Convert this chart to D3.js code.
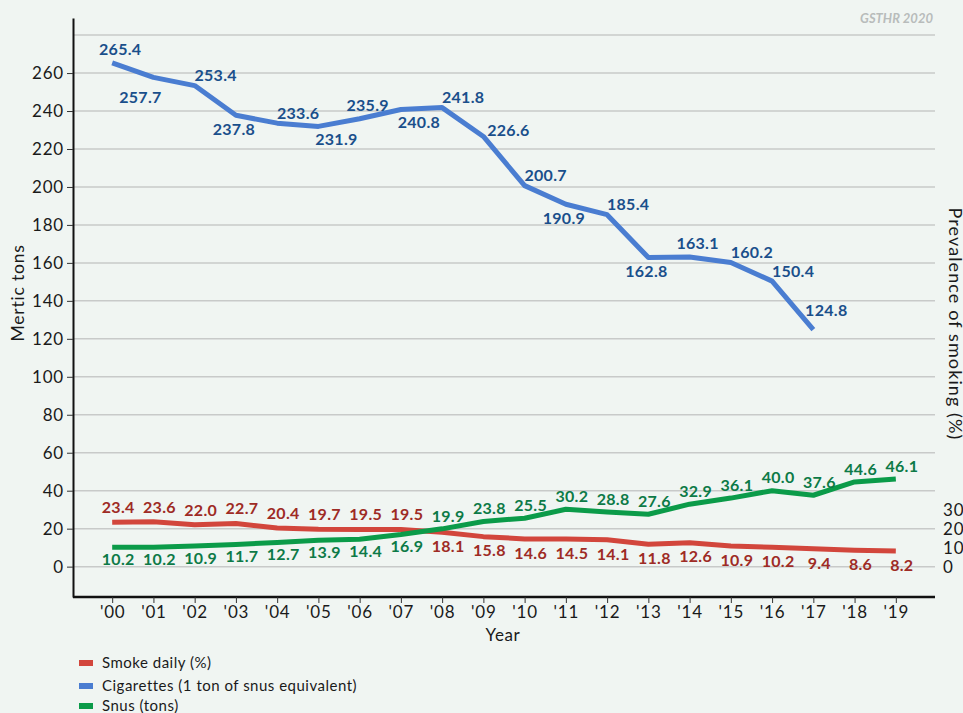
<!DOCTYPE html>
<html>
<head>
<meta charset="utf-8">
<script src="https://cdn.jsdelivr.net/npm/d3@7"></script>
<style>
  body { margin: 0; background: #f0f5f2; }
  svg { display: block; font-family: Lato, "Open Sans", sans-serif; }
</style>
</head>
<body>
<div id="chart"></div>
<script>
// years on the x axis
var years = d3.range(2000, 2020);
var year_labels = ["'00","'01","'02","'03","'04","'05","'06","'07","'08","'09",
                   "'10","'11","'12","'13","'14","'15","'16","'17","'18","'19"];

// cigarettes, 1 ton of snus equivalent (2000-2017)
var cigarettes = [265.4, 257.7, 253.4, 237.8, 233.6, 231.9, 235.9, 240.8, 241.8, 226.6,
                  200.7, 190.9, 185.4, 162.8, 163.1, 160.2, 150.4, 124.8];

// smoke daily (%)
var smoke_daily = [23.4, 23.6, 22.0, 22.7, 20.4, 19.7, 19.5, 19.5, 18.1, 15.8,
                   14.6, 14.5, 14.1, 11.8, 12.6, 10.9, 10.2, 9.4, 8.6, 8.2];

// snus (tons)
var snus = [10.2, 10.2, 10.9, 11.7, 12.7, 13.9, 14.4, 16.9, 19.9, 23.8,
            25.5, 30.2, 28.8, 27.6, 32.9, 36.1, 40.0, 37.6, 44.6, 46.1];

// where each cigarette label sits relative to its point
var cig_label_side = ["t","bl","tr","b","tr","br","t","br","tr","r",
                      "tr","b","tr","b","t","tr","tr","ut"];

var left_ticks = d3.range(0, 261, 20);
var grid_ticks = d3.range(0, 281, 20);
var right_ticks = [0, 10, 20, 30];

var legend_items = [
    {name: "Smoke daily (%)", color: "#d2463c"},
    {name: "Cigarettes (1 ton of snus equivalent)", color: "#4a7dd1"},
    {name: "Snus (tons)", color: "#0b9b49"}
];

// plot area (note: "top" is reserved on window, so use other names)
var W = 963, H = 713;
var plot_left = 73, plot_right = 935, plot_top = 18, plot_bottom = 597;

var svg = d3.select("#chart").append("svg")
    .attr("width", W)
    .attr("height", H);

svg.append("rect").attr("width", W).attr("height", H).attr("fill", "#f0f5f2");

// scales
var x = d3.scalePoint()
    .domain(years)
    .range([plot_left, plot_right])
    .padding(0.95);

var y = d3.scaleLinear()
    .domain([-16, 289])
    .range([plot_bottom, plot_top]);

// gridlines
svg.append("g")
    .selectAll("line")
    .data(grid_ticks)
    .join("line")
    .attr("x1", plot_left)
    .attr("x2", plot_right)
    .attr("y1", function(d) { return y(d); })
    .attr("y2", function(d) { return y(d); })
    .attr("stroke", "#c8cac9")
    .attr("stroke-width", 1.5);

// left axis
var yAxis = d3.axisLeft(y)
    .tickValues(left_ticks)
    .tickSize(6)
    .tickSizeOuter(0)
    .tickPadding(3);

var gy = svg.append("g")
    .attr("transform", "translate(" + plot_left + ",0)")
    .call(yAxis);
gy.select(".domain").attr("stroke", "#111").attr("stroke-width", 2);
gy.selectAll(".tick line").attr("stroke", "#333").attr("stroke-width", 1);
gy.selectAll(".tick text")
    .attr("font-family", "Lato")
    .attr("font-size", 17)
    .attr("letter-spacing", 0.8)
    .attr("fill", "#1a1a1a");

// bottom axis
var xAxis = d3.axisBottom(x)
    .tickSize(6)
    .tickSizeOuter(0)
    .tickPadding(3)
    .tickFormat(function(d, i) { return year_labels[i]; });

var gx = svg.append("g")
    .attr("transform", "translate(0," + plot_bottom + ")")
    .call(xAxis);
gx.select(".domain").attr("d", "M" + plot_left + ",0H" + plot_right).attr("stroke", "#111").attr("stroke-width", 2.5);
gx.selectAll(".tick line").attr("stroke", "#333").attr("stroke-width", 1);
gx.selectAll(".tick text")
    .attr("font-family", "Lato")
    .attr("font-size", 17)
    .attr("letter-spacing", 0.8)
    .attr("fill", "#1a1a1a");

// right axis (prevalence of smoking, same scale)
var yRight = d3.axisRight(y)
    .tickValues(right_ticks)
    .tickSize(0)
    .tickPadding(0);

var gr = svg.append("g")
    .attr("transform", "translate(943,0)")
    .call(yRight);
gr.select(".domain").remove();
gr.selectAll(".tick text")
    .attr("font-family", "Lato")
    .attr("font-size", 17)
    .attr("letter-spacing", 0.8)
    .attr("fill", "#1a1a1a");

// axis titles
svg.append("text")
    .attr("transform", "translate(24,293) rotate(-90)")
    .attr("text-anchor", "middle")
    .attr("font-size", 17.5)
    .attr("letter-spacing", 0.8)
    .attr("fill", "#1a1a1a")
    .text("Mertic tons");

svg.append("text")
    .attr("transform", "translate(949,324) rotate(90)")
    .attr("text-anchor", "middle")
    .attr("font-size", 18)
    .attr("letter-spacing", 1.1)
    .attr("fill", "#1a1a1a")
    .text("Prevalence of smoking (%)");

svg.append("text")
    .attr("x", 503)
    .attr("y", 641)
    .attr("text-anchor", "middle")
    .attr("font-size", 17)
    .attr("letter-spacing", 0.6)
    .attr("fill", "#1a1a1a")
    .text("Year");

svg.append("text")
    .attr("x", 933)
    .attr("y", 23)
    .attr("text-anchor", "end")
    .attr("font-size", 13)
    .attr("font-weight", "bold")
    .attr("font-style", "italic")
    .attr("fill", "#b8bcbb")
    .text("GSTHR 2020");

// lines
var line = d3.line()
    .x(function(d, i) { return x(years[i]); })
    .y(function(d) { return y(d); });

function draw_series(values, color) {
    svg.append("path")
        .datum(values)
        .attr("d", line)
        .attr("fill", "none")
        .attr("stroke", color)
        .attr("stroke-width", 5)
        .attr("stroke-linejoin", "round");
}

draw_series(smoke_daily, "#d2463c");
draw_series(snus, "#0b9b49");
draw_series(cigarettes, "#4a7dd1");

// offsets for the cigarette labels
var side_offsets = {
    t: [8, -14], b: [-2, 14], tr: [21, -10], br: [18, 13],
    r: [25, -6], bl: [-13, 20], ut: [13, -19]
};

svg.append("g")
    .selectAll("text")
    .data(cigarettes)
    .join("text")
    .attr("x", function(d, i) { return x(years[i]) + side_offsets[cig_label_side[i]][0]; })
    .attr("y", function(d, i) { return y(d) + side_offsets[cig_label_side[i]][1]; })
    .attr("dy", "0.36em")
    .attr("text-anchor", "middle")
    .attr("font-size", 16)
    .attr("letter-spacing", 0.3)
    .attr("font-weight", "bold")
    .attr("fill", "#1a4f8b")
    .text(function(d) { return d.toFixed(1); });

// smoke / snus labels go on the outer side of the pair
function is_upper(a, b) { return a > b; }

svg.append("g")
    .selectAll("text")
    .data(smoke_daily)
    .join("text")
    .attr("x", function(d, i) { return x(years[i]) + 6; })
    .attr("y", function(d, i) { return y(d) + (is_upper(d, snus[i]) ? -15 : 14); })
    .attr("dy", "0.36em")
    .attr("text-anchor", "middle")
    .attr("font-size", 16)
    .attr("letter-spacing", 0.3)
    .attr("font-weight", "bold")
    .attr("fill", "#9e2b25")
    .text(function(d) { return d.toFixed(1); });

svg.append("g")
    .selectAll("text")
    .data(snus)
    .join("text")
    .attr("x", function(d, i) { return x(years[i]) + 6; })
    .attr("y", function(d, i) { return y(d) + (is_upper(d, smoke_daily[i]) ? -13 : 12); })
    .attr("dy", "0.36em")
    .attr("text-anchor", "middle")
    .attr("font-size", 16)
    .attr("letter-spacing", 0.3)
    .attr("font-weight", "bold")
    .attr("fill", "#0d7a47")
    .text(function(d) { return d.toFixed(1); });

// legend
var lg = svg.append("g")
    .selectAll("g")
    .data(legend_items)
    .join("g")
    .attr("transform", function(d, i) { return "translate(79," + [663, 686, 706][i] + ")"; });

lg.append("rect")
    .attr("y", -3)
    .attr("width", 14)
    .attr("height", 6)
    .attr("fill", function(d) { return d.color; });

lg.append("text")
    .attr("x", 23)
    .attr("dy", "0.36em")
    .attr("font-size", 15)
    .attr("letter-spacing", 0.5)
    .attr("fill", "#1a1a1a")
    .text(function(d) { return d.name; });
</script>
</body>
</html>
